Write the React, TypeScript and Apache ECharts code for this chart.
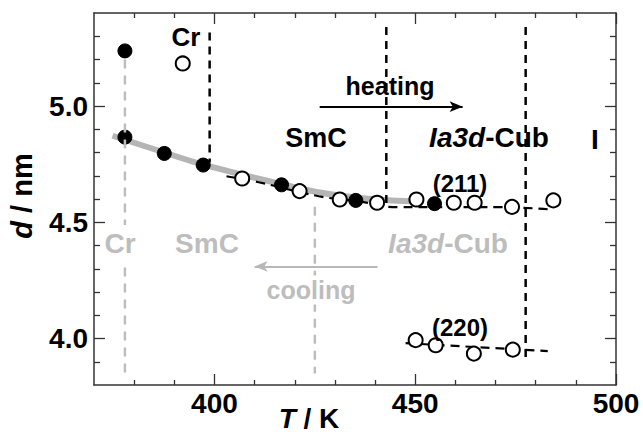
import React, { useEffect, useRef } from "react";
import * as echarts from "echarts";

// ---- data ----
const filledT = [377.7, 377.7, 387.5, 397.2, 416.7, 435.2, 454.8];
const filledD = [5.237, 4.866, 4.796, 4.746, 4.661, 4.594, 4.58];

const open211T = [392.1, 406.9, 421.2, 431.2, 440.5, 450.3, 459.6, 464.8, 474.1, 484.4];
const open211D = [5.183, 4.688, 4.634, 4.598, 4.584, 4.598, 4.584, 4.584, 4.566, 4.594];

const open220T = [450.1, 455.1, 464.6, 474.3];
const open220D = [3.993, 3.971, 3.935, 3.952];

const coolFitT = [374.6, 387.5, 397.2, 416.7, 431.0, 448.6];
const coolFitD = [4.872, 4.8, 4.748, 4.664, 4.615, 4.59];

const fit211T = [403, 411, 426, 436, 445.6, 458, 470, 483];
const fit211D = [4.698, 4.672, 4.612, 4.59, 4.565, 4.565, 4.565, 4.556];

const fit220T = [447.6, 483];
const fit220D = [3.98, 3.946];

// vertical phase-boundary lines: [T, dTop, dBottom]
const heatBoundaries = [
  [398.8, 5.316, 4.757],
  [442.8, 5.34, 4.567],
  [477.5, 5.34, 3.916],
];
const coolBoundaries = [
  [377.7, 5.2, 3.85],
  [425.0, 4.567, 3.85],
];

// arrows: [Tstart, Tend, d]
const heatingArrow = [426.2, 461.8, 4.997];
const coolingArrow = [440.6, 410.0, 4.31];

const xMajor = [400, 450, 500];
const xMinor = [380, 390, 410, 420, 430, 440, 460, 470, 480, 490];
const yMajor = [4.0, 4.5, 5.0];
const yMinor = [3.9, 4.1, 4.2, 4.3, 4.4, 4.6, 4.7, 4.8, 4.9, 5.1, 5.2, 5.3];

const zip = (a: number[], b: number[]) => a.map((v, i) => [v, b[i]]);

const FONT = '"Liberation Sans", Arial, Helvetica, sans-serif';
const BLACK = "#000";
const GRAY = "#bdbdbd";
const AXIS = "#333";

export default function App() {
  const ref = useRef<HTMLDivElement>(null);
  useEffect(() => {
    document.body.style.margin = "0";
    const chart = echarts.init(ref.current!, null, { renderer: "svg" });

    const mkX = (pos: string, major: boolean, labels: boolean) => ({
      type: "value",
      min: 370,
      max: 500,
      position: pos,
      axisLine: { show: major, lineStyle: { color: AXIS, width: 1.5 } },
      axisTick: {
        show: true,
        inside: true,
        length: major ? 11 : 5,
        customValues: major ? xMajor : xMinor,
        lineStyle: { color: AXIS, width: 1.3 },
      },
      axisLabel: labels
        ? {
            show: true,
            customValues: xMajor,
            fontSize: 28,
            fontWeight: "bold",
            fontFamily: FONT,
            color: BLACK,
            margin: 4,
          }
        : { show: false },
      splitLine: { show: false },
    });
    const mkY = (pos: string, major: boolean, labels: boolean) => ({
      type: "value",
      min: 3.8,
      max: 5.4,
      position: pos,
      axisLine: { show: major, lineStyle: { color: AXIS, width: 1.5 } },
      axisTick: {
        show: true,
        inside: true,
        length: major ? 11 : 6,
        customValues: major ? yMajor : yMinor,
        lineStyle: { color: AXIS, width: 1.3 },
      },
      axisLabel: labels
        ? {
            show: true,
            customValues: yMajor,
            formatter: (v: number) => v.toFixed(1),
            fontSize: 28,
            fontWeight: "bold",
            fontFamily: FONT,
            color: BLACK,
            margin: 6,
          }
        : { show: false },
      splitLine: { show: false },
    });

    const vline = (b: number[], color: string, dash: number[], width: number, z: number) => ({
      type: "line",
      data: [
        [b[0], b[1]],
        [b[0], b[2]],
      ],
      symbol: "none",
      lineStyle: { color, width, type: dash },
      z,
      silent: true,
    });

    const arrowLine = (a: number[], color: string) => ({
      silent: true,
      symbol: ["none", "arrow"],
      symbolSize: [8, 13],
      label: { show: false },
      lineStyle: { color, width: 2, type: "solid" },
      emphasis: { disabled: true },
      animation: false,
      data: [[{ coord: [a[0], a[2]] }, { coord: [a[1], a[2]] }]],
    });

    const txt = (
      text: string,
      x: number,
      y: number,
      size: number,
      color: string,
      extra: any = {}
    ) => ({
      type: "text",
      x,
      y,
      z: 100,
      style: {
        text,
        fill: color,
        font: `bold ${size}px ${FONT}`,
        align: "center",
        verticalAlign: "middle",
        rich: {
          i: { fontStyle: "italic", fontWeight: "bold", fontSize: size, fontFamily: FONT, fill: color },
          n: { fontWeight: "bold", fontSize: size, fontFamily: FONT, fill: color },
        },
        ...extra,
      },
    });

    chart.setOption({
      animation: false,
      grid: { left: 94, right: 27, top: 13, bottom: 50 },
      xAxis: [
        mkX("bottom", true, true),
        mkX("bottom", false, false),
        mkX("top", true, false),
        mkX("top", false, false),
      ],
      yAxis: [
        mkY("left", true, true),
        mkY("left", false, false),
        mkY("right", true, false),
        mkY("right", false, false),
      ],
      series: [
        {
          type: "line",
          data: zip(coolFitT, coolFitD),
          smooth: true,
          symbol: "none",
          lineStyle: { color: "#b5b5b5", width: 6 },
          z: 1,
          silent: true,
          markLine: arrowLine(coolingArrow, "#b8b8b8"),
        },
        {
          type: "line",
          data: zip(fit211T, fit211D),
          smooth: true,
          symbol: "none",
          lineStyle: { color: BLACK, width: 2.2, type: [9, 6] },
          z: 2,
          silent: true,
          markLine: arrowLine(heatingArrow, BLACK),
        },
        {
          type: "line",
          data: zip(fit220T, fit220D),
          symbol: "none",
          lineStyle: { color: BLACK, width: 2.2, type: [9, 6] },
          z: 2,
          silent: true,
        },
        ...heatBoundaries.map((b) => vline(b, BLACK, [8, 6], 2.5, 3)),
        {
          type: "scatter",
          data: zip(open211T, open211D).concat(zip(open220T, open220D)),
          symbol: "circle",
          symbolSize: 14,
          itemStyle: { color: "#fff", borderColor: BLACK, borderWidth: 2, opacity: 1 },
          z: 4,
          silent: true,
        },
        {
          type: "scatter",
          data: zip(filledT, filledD),
          symbol: "circle",
          symbolSize: 14,
          itemStyle: { color: BLACK, borderColor: BLACK, borderWidth: 1, opacity: 1 },
          z: 4,
          silent: true,
        },
        ...coolBoundaries.map((b) => vline(b, GRAY, [9, 7], 2.5, 5)),
      ],
      graphic: [
        txt("Cr", 186, 37, 26, BLACK),
        txt("SmC", 316, 138, 27, BLACK),
        txt("heating", 390, 86, 25, BLACK),
        txt("{i|Ia3d}{n|-Cub}", 489, 137, 28, BLACK),
        txt("I", 595, 139, 28, BLACK),
        txt("(211)", 460, 183, 24, BLACK),
        txt("(220)", 460, 327, 24, BLACK),
        txt("Cr", 120, 243, 28, GRAY, { backgroundColor: "#fff", padding: [4, 0] }),
        txt("SmC", 207, 243, 28, GRAY),
        txt("{i|Ia3d}{n|-Cub}", 448, 243, 28, GRAY),
        txt("cooling", 311, 290, 25, GRAY, { backgroundColor: "#fff", padding: [2, 0] }),
        txt("{i|T}{n| / K}", 309, 418, 28, BLACK),
        {
          ...txt("{i|d}{n| / nm}", 22, 196, 29, BLACK),
          rotation: Math.PI / 2,
        },
      ],
    });
    return () => chart.dispose();
  }, []);
  return <div ref={ref} style={{ width: 643, height: 435 }} />;
}
